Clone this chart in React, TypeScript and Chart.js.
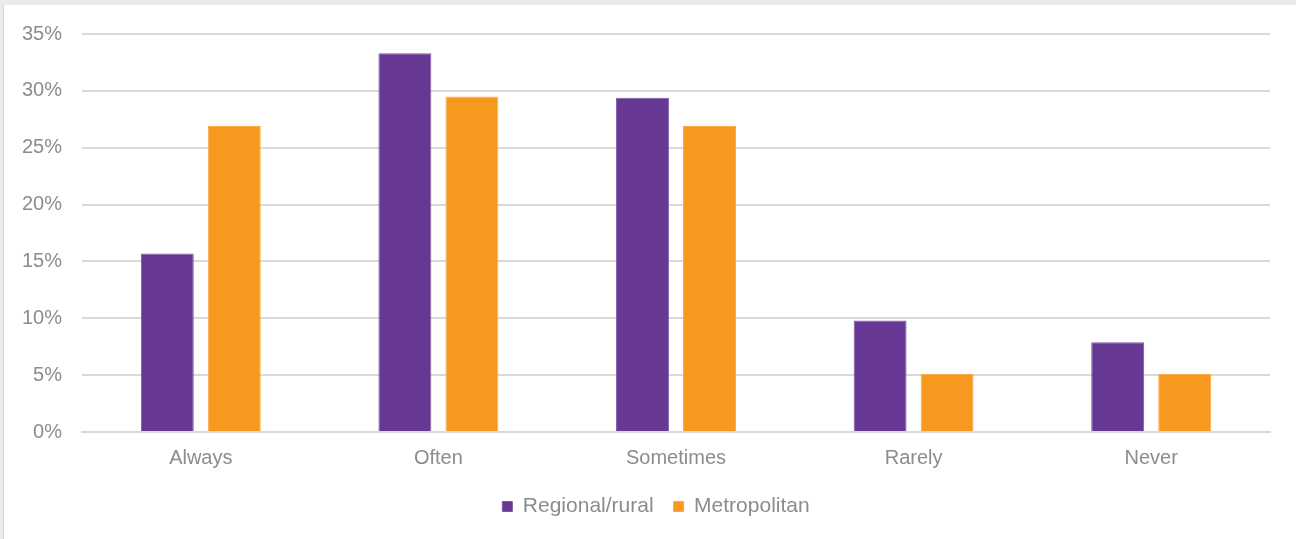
import React, { useEffect, useRef } from "react";
import { Chart, registerables } from "chart.js";

Chart.register(...registerables);

const categories = ["Always", "Often", "Sometimes", "Rarely", "Never"];
const regionalRural = [15.7, 33.3, 29.4, 9.8, 7.9];
const metropolitan = [26.9, 29.5, 26.9, 5.1, 5.1];
const seriesNames = ["Regional/rural", "Metropolitan"];

const legendShift = {
  id: "legendShift",
  afterLayout(chart: any) {
    const l = chart.legend;
    if (l) {
      l.left += 21;
      l.right += 21;
    }
  },
};

export default function App() {
  const canvasRef = useRef<HTMLCanvasElement | null>(null);

  useEffect(() => {
    document.body.style.margin = "0";
    const ctx = canvasRef.current;
    if (!ctx) return;
    const chart = new Chart(ctx, {
      type: "bar",
      data: {
        labels: categories,
        datasets: [
          {
            label: seriesNames[0],
            data: regionalRural,
            backgroundColor: "#673893",
            borderColor: "#7d57a5",
            borderWidth: 1,
            barPercentage: 0.79,
            categoryPercentage: 0.564,
          },
          {
            label: seriesNames[1],
            data: metropolitan,
            backgroundColor: "#F7991F",
            borderColor: "#f9aa47",
            borderWidth: 1,
            barPercentage: 0.79,
            categoryPercentage: 0.564,
          },
        ],
      },
      options: {
        animation: false,
        responsive: false,
        maintainAspectRatio: false,
        layout: { padding: { left: 0, right: 26, top: 34, bottom: 12 } },
        plugins: {
          tooltip: { enabled: false },
          legend: {
            position: "bottom",
            labels: {
              boxWidth: 10,
              boxHeight: 10,
              padding: 20,
              color: "#8c8c8c",
              font: { family: "'Liberation Sans', Arial, sans-serif", size: 21 },
            },
          },
        },
        scales: {
          x: {
            grid: { display: false, drawTicks: false },
            border: { display: true, color: "#d9d9d9", width: 2 },
            ticks: {
              color: "#8c8c8c",
              padding: 14,
              font: { family: "'Liberation Sans', Arial, sans-serif", size: 20 },
            },
            afterFit: (scale: any) => {
              scale.height = 44;
            },
          },
          y: {
            min: 0,
            max: 35,
            ticks: {
              stepSize: 5,
              color: "#8c8c8c",
              padding: 20,
              font: { family: "'Liberation Sans', Arial, sans-serif", size: 20 },
              callback: (v: any) => v + "%",
            },
            grid: { color: "#d9d9d9", lineWidth: 2, drawTicks: false },
            border: { display: false },
            afterFit: (scale: any) => {
              scale.width = 82;
            },
          },
        },
      },
      plugins: [legendShift],
    });
    return () => chart.destroy();
  }, []);

  return (
    <div
      style={{
        position: "absolute",
        left: 0,
        top: 0,
        width: 1296,
        height: 539,
        background: "#ebebeb",
      }}
    >
      <div
        style={{
          position: "absolute",
          left: 3,
          top: 5,
          width: 1293,
          height: 534,
          background: "#ffffff",
          borderLeft: "1px solid #d4d4d4",
        }}
      />
      <canvas
        ref={canvasRef}
        width={1296}
        height={539}
        style={{ position: "absolute", left: 0, top: 0, width: 1296, height: 539 }}
      />
    </div>
  );
}
